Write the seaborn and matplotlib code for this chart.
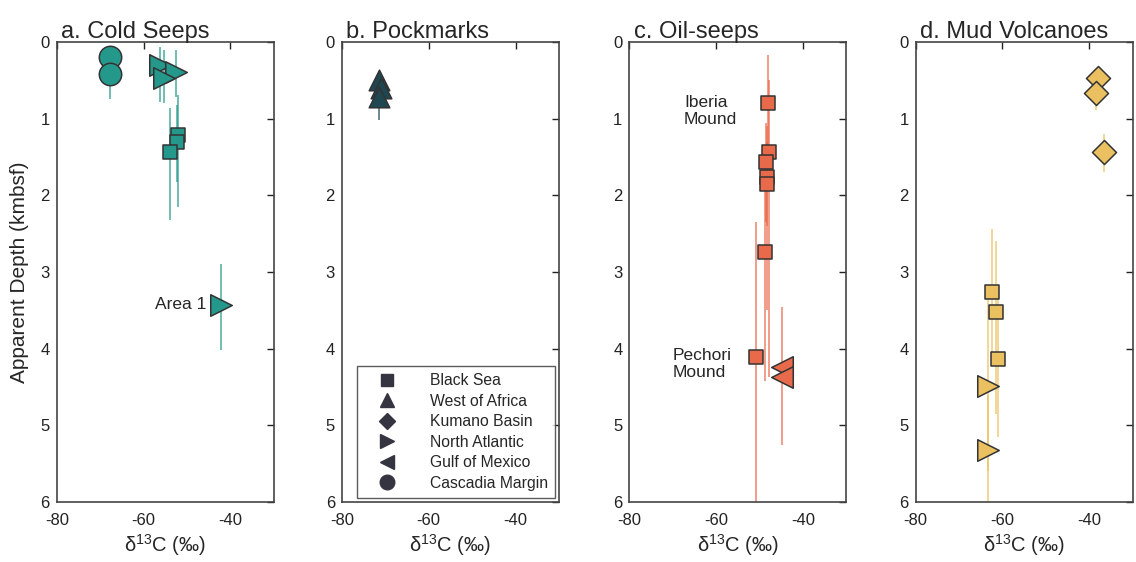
import numpy as np
import pandas as pd
import matplotlib
matplotlib.use("Agg")
import matplotlib.pyplot as plt
from matplotlib.lines import Line2D
import seaborn as sns

sns.set_style("white")
plt.rcParams['font.family'] = ['Liberation Sans', 'DejaVu Sans']
plt.rcParams['mathtext.fontset'] = 'custom'
plt.rcParams['mathtext.rm'] = 'Liberation Sans'
plt.rcParams['axes.unicode_minus'] = False

# ---------------- data ----------------
titles = ["a. Cold Seeps", "b. Pockmarks", "c. Oil-seeps", "d. Mud Volcanoes"]
colors = ["#24998b", "#1f4751", "#e9694b", "#ebc060"]

regions_legend = ["Black Sea", "West of Africa", "Kumano Basin",
                  "North Atlantic", "Gulf of Mexico", "Cascadia Margin"]
region_markers = {"Black Sea": "s", "West of Africa": "^", "Kumano Basin": "D",
                  "North Atlantic": ">", "Gulf of Mexico": "<", "Cascadia Margin": "o"}

a_region = ["Cascadia Margin", "Cascadia Margin", "North Atlantic", "North Atlantic",
            "North Atlantic", "Black Sea", "Black Sea", "Black Sea", "North Atlantic"]
a_d13c = [-67.7, -67.7, -56.3, -52.6, -55.2, -52.0, -52.2, -53.9, -42.1]
a_depth = [0.19, 0.41, 0.30, 0.39, 0.47, 1.21, 1.30, 1.43, 3.43]
a_lo = [0.19, 0.41, 0.06, 0.10, 0.10, 0.69, 0.82, 0.86, 2.90]
a_hi = [0.19, 0.74, 0.78, 0.72, 0.80, 2.15, 1.82, 2.32, 4.02]

b_region = ["West of Africa", "West of Africa", "West of Africa"]
b_d13c = [-71.5, -71.0, -71.5]
b_depth = [0.50, 0.60, 0.71]
b_lo = [0.50, 0.60, 0.40]
b_hi = [0.50, 0.60, 1.02]

c_region = ["Black Sea"] * 7 + ["Gulf of Mexico"] * 2
c_d13c = [-48.0, -47.8, -48.6, -48.3, -48.3, -48.8, -50.9, -44.9, -44.9]
c_depth = [0.80, 1.43, 1.57, 1.76, 1.85, 2.74, 4.11, 4.24, 4.37]
c_lo = [0.17, 0.50, 1.05, 1.10, 1.30, 1.50, 2.35, 3.46, 4.30]
c_hi = [1.45, 4.37, 2.35, 3.50, 2.40, 4.42, 6.00, 5.26, 4.40]

d_region = ["Kumano Basin"] * 3 + ["Black Sea"] * 3 + ["North Atlantic"] * 2
d_d13c = [-37.9, -38.5, -36.5, -62.3, -61.5, -61.0, -63.4, -63.4]
d_depth = [0.47, 0.67, 1.43, 3.26, 3.52, 4.13, 4.49, 5.32]
d_lo = [0.40, 0.50, 1.20, 2.44, 2.60, 3.30, 3.30, 4.60]
d_hi = [0.55, 0.88, 1.70, 4.10, 4.85, 5.15, 5.60, 6.00]

panels = [
    (a_region, a_d13c, a_depth, a_lo, a_hi),
    (b_region, b_d13c, b_depth, b_lo, b_hi),
    (c_region, c_d13c, c_depth, c_lo, c_hi),
    (d_region, d_d13c, d_depth, d_lo, d_hi),
]

marker_sizes = {"s": 115, "^": 220, "D": 150, ">": 240, "<": 240, "o": 260}

# ---------------- figure ----------------
fig = plt.figure(figsize=(11.36, 5.62), dpi=100)
lefts = [0.050, 0.301, 0.554, 0.806]
width, bottom, height = 0.191, 0.107, 0.818

for i, (reg, xs, ys, lo, hi) in enumerate(panels):
    ax = fig.add_axes([lefts[i], bottom, width, height])
    df = pd.DataFrame({"region": reg, "d13c": xs, "depth": ys, "lo": lo, "hi": hi})
    col = colors[i]
    ax.vlines(df["d13c"], df["lo"], df["hi"], color=col, alpha=0.65, lw=1.4, zorder=1)
    for r, sub in df.groupby("region", sort=False):
        m = region_markers[r]
        sns.scatterplot(data=sub, x="d13c", y="depth", marker=m, s=marker_sizes[m],
                        color=col, edgecolor="#333333", linewidth=1.1, ax=ax,
                        legend=False, zorder=3)
    ax.set_xlim(-80, -30)
    ax.set_ylim(6, 0)
    ax.set_xticks([-80, -60, -40])
    ax.set_yticks([0, 1, 2, 3, 4, 5, 6])
    ax.tick_params(direction="in", top=True, right=True, length=5, width=1,
                   labelsize=12, colors="#222222")
    ax.tick_params(axis="x", pad=8)
    ax.tick_params(axis="y", pad=5)
    for sp in ax.spines.values():
        sp.set_visible(True)
        sp.set_color("#444444")
        sp.set_linewidth(1.2)
    ax.set_xlabel(r"δ$^{13}$C (‰)", fontsize=14.5, labelpad=3)
    ax.set_ylabel("Apparent Depth (kmbsf)" if i == 0 else "", fontsize=15, labelpad=8)
    ax.set_title(titles[i], loc="left", fontsize=17, pad=3, x=0.02)
    ax.grid(False)

    if i == 0:
        ax.text(-45.5, 3.43, "Area 1", ha="right", va="center", fontsize=12.5)
    if i == 1:
        handles = [Line2D([0], [0], marker=region_markers[r], color="none",
                          markerfacecolor="#353542", markeredgecolor="#353542",
                          markersize=(8.5 if region_markers[r] in "sD" else 10.5), label=r)
                   for r in regions_legend]
        leg = ax.legend(handles=handles, loc="lower right", fontsize=11.3,
                        frameon=True, fancybox=False, edgecolor="#333333",
                        borderpad=0.45, labelspacing=0.35, handletextpad=1.2,
                        borderaxespad=0.25, handlelength=3.0)
        leg.get_frame().set_linewidth(1.0)
    if i == 2:
        ax.text(-67.4, 0.9, "Iberia\nMound", ha="left", va="center", fontsize=12.5,
                linespacing=1.2)
        ax.text(-70.1, 4.2, "Pechori\nMound", ha="left", va="center", fontsize=12.5,
                linespacing=1.2)

fig.savefig("out.png", dpi=100, facecolor="white")
